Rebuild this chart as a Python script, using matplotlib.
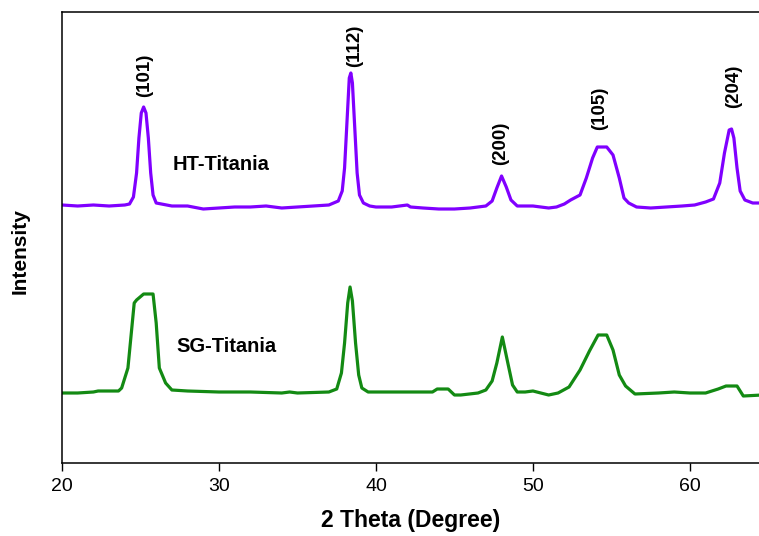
import numpy as np
import matplotlib
matplotlib.use('Agg')
import matplotlib.pyplot as plt

plt.rcParams['font.family'] = ['Liberation Sans', 'DejaVu Sans']

# HT-Titania pattern (intensity in arbitrary units, already offset)
ht_theta = [20.0, 21.0, 22.0, 23.0, 24.0, 24.3, 24.55, 24.75, 24.9, 25.05, 25.2, 25.35, 25.5,
            25.65, 25.8, 26.0, 27.0, 28.0, 29.0, 30.0, 31.0, 32.0, 33.0, 34.0, 35.0, 36.0,
            37.0, 37.6, 37.85, 38.0, 38.15, 38.3, 38.4, 38.5, 38.65, 38.8, 38.95, 39.2, 39.6,
            40.0, 41.0, 42.0, 42.2, 43.0, 44.0, 45.0, 46.0, 47.0, 47.4, 47.7, 48.0, 48.3, 48.6,
            49.0, 50.0, 51.0, 51.5, 52.0, 52.4, 53.0, 53.4, 53.8, 54.1, 54.7, 55.1, 55.5, 55.8,
            56.1, 56.6, 57.5, 58.5, 59.5, 60.3, 61.0, 61.5, 61.9, 62.2, 62.5, 62.65, 62.8, 63.0,
            63.2, 63.5, 64.0, 64.6]
ht_int = [258, 257, 258, 257, 258, 259, 266, 290, 325, 350, 356, 350, 325,
          290, 268, 260, 257, 257, 254, 255, 256, 256, 257, 255, 256, 257,
          258, 262, 272, 295, 340, 385, 390, 380, 335, 290, 268, 260, 257,
          256, 256, 258, 256, 255, 254, 254, 255, 257, 262, 275, 287, 276, 263,
          257, 257, 255, 256, 259, 263, 268, 285, 305, 316, 316, 308, 285, 265,
          260, 256, 255, 256, 257, 258, 261, 264, 280, 310, 333, 334, 325, 295,
          272, 263, 260, 260]

# SG-Titania pattern
sg_theta = [20.0, 21.0, 22.0, 22.3, 23.6, 23.8, 24.2, 24.6, 24.75, 25.2, 25.8, 26.0, 26.2, 26.6,
            27.0, 28.0, 30.0, 32.0, 34.0, 34.5, 35.0, 37.0, 37.5, 37.8, 38.0, 38.2, 38.35, 38.5,
            38.7, 38.9, 39.1, 39.5, 41.0, 43.0, 43.6, 43.9, 44.6, 45.0, 45.4, 46.5, 47.0, 47.4,
            47.7, 48.05, 48.4, 48.7, 49.0, 49.5, 50.0, 51.0, 51.6, 52.3, 53.0, 53.6, 54.15, 54.7,
            55.1, 55.5, 55.9, 56.5, 58.0, 59.0, 60.0, 61.0, 61.8, 62.3, 63.0, 63.4, 64.6]
sg_int = [70, 70, 71, 72, 72, 75, 95, 160, 163, 169, 169, 140, 95, 80,
          73, 72, 71, 71, 70, 71, 70, 71, 74, 90, 120, 160, 176, 162,
          120, 88, 75, 71, 71, 71, 71, 74, 74, 68, 68, 70, 73, 82,
          100, 126, 100, 78, 71, 71, 72, 68, 70, 76, 93, 112, 128, 128,
          113, 88, 77, 69, 70, 71, 70, 70, 74, 77, 77, 67, 68]

hkl_labels = ['(101)', '(112)', '(200)', '(105)', '(204)']
hkl_theta = [25.29, 38.66, 47.96, 54.27, 62.8]
hkl_y = [366, 396, 298, 333, 355]

fig = plt.figure(figsize=(7.59, 5.36), dpi=100)
ax = fig.add_axes([62 / 759, 73 / 536, 697 / 759, 451 / 536])

ax.plot(ht_theta, ht_int, color='#8000ff', lw=2.3)
ax.plot(sg_theta, sg_int, color='#138a13', lw=2.3)

for lab, t, y in zip(hkl_labels, hkl_theta, hkl_y):
    ax.text(t, y, lab, rotation=90, ha='center', va='bottom', fontsize=13.5, fontweight='bold')

ax.text(27.07, 298, 'HT-Titania', fontsize=14.5, fontweight='bold', va='center')
ax.text(27.26, 117, 'SG-Titania', fontsize=14.5, fontweight='bold', va='center')

ax.set_xlim(20, 64.4)
ax.set_ylim(0, 451)
ax.set_xticks([20, 30, 40, 50, 60])
ax.set_yticks([])
ax.tick_params(axis='x', direction='out', length=6, width=1, labelsize=14, pad=5)
ax.spines['right'].set_visible(False)
for s in ['left', 'top', 'bottom']:
    ax.spines[s].set_linewidth(1.1)

ax.set_xlabel('2 Theta (Degree)', fontsize=16.5, fontweight='bold', labelpad=10)
ax.set_ylabel('Intensity', fontsize=15, fontweight='bold')
ax.yaxis.set_label_coords(-0.047, 0.47)

fig.savefig('out.png', dpi=100)
